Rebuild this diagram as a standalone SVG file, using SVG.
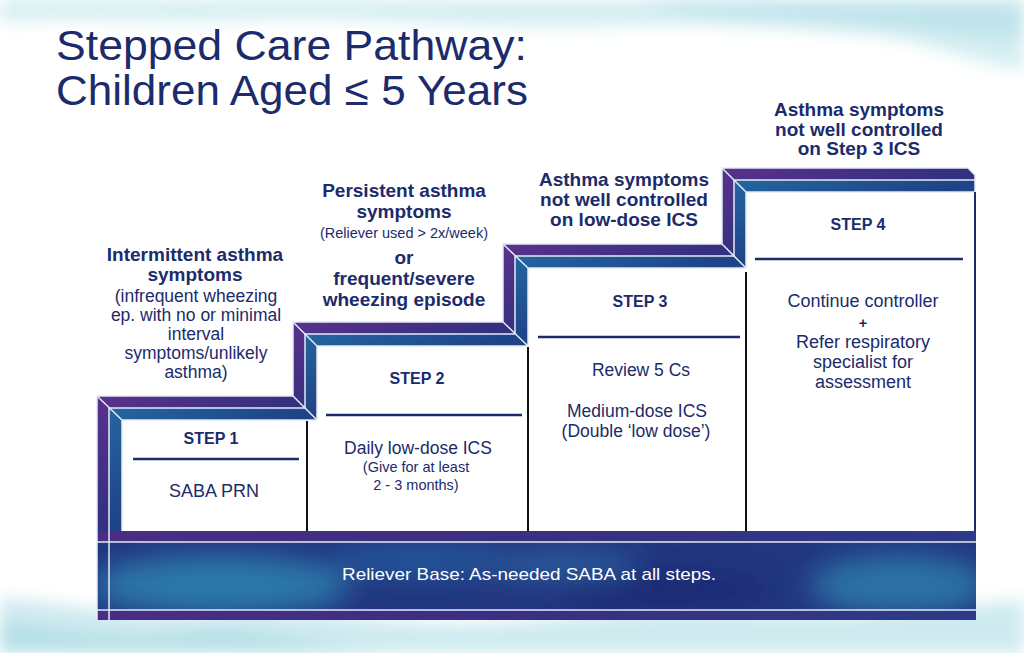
<svg xmlns="http://www.w3.org/2000/svg" width="1024" height="653" viewBox="0 0 1024 653">
  <defs>
    <filter id="soft" x="-20%" y="-50%" width="140%" height="200%">
      <feGaussianBlur stdDeviation="8"/>
    </filter>
    <filter id="wash" x="-30%" y="-60%" width="160%" height="220%">
      <feGaussianBlur stdDeviation="14"/>
    </filter>
    <clipPath id="baseClip">
      <rect x="97" y="531" width="879" height="89"/>
    </clipPath>
    <linearGradient id="gPurple" x1="0" y1="0" x2="1" y2="1">
      <stop offset="0" stop-color="#5a318c"/>
      <stop offset="0.5" stop-color="#33307f"/>
      <stop offset="1" stop-color="#4a2f86"/>
    </linearGradient>
    <linearGradient id="gBlue" x1="0" y1="0" x2="1" y2="1">
      <stop offset="0" stop-color="#2466a0"/>
      <stop offset="0.5" stop-color="#1f4286"/>
      <stop offset="1" stop-color="#2a70a6"/>
    </linearGradient>
    <linearGradient id="gBaseStrip" x1="0" y1="0" x2="1" y2="0">
      <stop offset="0" stop-color="#4a2d84"/>
      <stop offset="0.5" stop-color="#3a2f82"/>
      <stop offset="1" stop-color="#2c3a88"/>
    </linearGradient>
    <style>
      .navy { fill: #1b2b6b; }
      .t { font-family: "Liberation Sans", Arial, sans-serif; fill: #1b2b6b; text-anchor: middle; }
      .b { font-weight: bold; font-size: 19px; }
      .r { font-size: 17.5px; }
      .s { font-size: 14.5px; }
      .step { font-weight: bold; font-size: 16px; }
      .body { font-size: 18px; }
      .purple { fill: url(#gPurple); }
      .blue { fill: url(#gBlue); }
      .hl { stroke: #e4ecf4; stroke-width: 1.5; fill: none; }
      .rule { stroke: #1b2b6b; stroke-width: 2.5; }
      .vline { stroke: #111; stroke-width: 2; }
    </style>
  </defs>

  <!-- background -->
  <rect x="0" y="0" width="1024" height="653" fill="#ffffff"/>
  <g id="background" filter="url(#soft)" opacity="0.85">
    <path d="M0 0 H1024 V70 C960 60 930 40 860 34 C760 26 700 22 600 26 C480 30 380 16 250 20 C150 23 60 18 0 22 Z" fill="#cdebef"/>
    <path d="M640 0 H1024 V40 C940 36 860 22 760 20 C700 18 660 10 640 0 Z" fill="#b5e0e8"/>
    <path d="M0 598 C80 604 140 620 210 614 C300 606 380 626 470 624 C560 622 640 606 740 612 C840 618 930 608 1024 600 V653 H0 Z" fill="#c6e7ed"/>
    <path d="M0 620 C60 630 120 640 200 630 C260 624 320 650 400 653 H0 Z" fill="#a9dbe3"/>
  </g>

  <!-- title -->
  <g id="title">
    <text x="56" y="60" font-family="Liberation Sans, Arial, sans-serif" font-size="43" class="navy" textLength="471" lengthAdjust="spacingAndGlyphs">Stepped Care Pathway:</text>
    <text x="56" y="105" font-family="Liberation Sans, Arial, sans-serif" font-size="43" class="navy" textLength="472" lengthAdjust="spacingAndGlyphs">Children Aged ≤ 5 Years</text>
  </g>

  <!-- white step boxes -->
  <g id="boxes" fill="#ffffff">
    <rect x="122" y="420" width="185" height="111"/>
    <polygon points="317,346 528,346 528,531 307,531 307,420 317,420"/>
    <rect x="528" y="268" width="218" height="263"/>
    <rect x="746" y="192" width="229" height="339"/>
  </g>

  <!-- stair frames -->
  <g id="frames">
    <polygon class="purple" points="97,396 293,396 317,420 122,420 122,531 97,531"/>
    <polygon class="blue" points="109,408 305,408 317,420 122,420 122,531 109,531"/>
    <polygon class="purple" points="293,322 503,322 528,346 317,346 317,420 293,396"/>
    <polygon class="blue" points="305,334 515,334 528,346 317,346 317,420 305,408"/>
    <polygon class="purple" points="503,244 722,244 746,268 528,268 528,346 503,322"/>
    <polygon class="blue" points="515,256 734,256 746,268 528,268 528,346 515,334"/>
    <polygon class="purple" points="722,168 968,168 975,175 975,192 746,192 746,268 722,244"/>
    <polygon class="blue" points="734,180 975,180 975,192 746,192 746,268 734,256"/>
  </g>

  <!-- base band -->
  <g id="base">
    <rect x="97" y="531" width="879" height="89" fill="#22367f"/>
    <g clip-path="url(#baseClip)">
      <g filter="url(#wash)">
        <ellipse cx="220" cy="585" rx="130" ry="30" fill="#2a78aa"/>
        <ellipse cx="420" cy="560" rx="90" ry="18" fill="#24549a"/>
        <ellipse cx="660" cy="590" rx="110" ry="20" fill="#1c2c74"/>
        <ellipse cx="900" cy="585" rx="90" ry="30" fill="#2a72a6"/>
        <ellipse cx="560" cy="565" rx="80" ry="14" fill="#2b5c9e"/>
      </g>
      <rect x="97" y="531" width="879" height="11" fill="url(#gBaseStrip)"/>
      <rect x="97" y="610" width="879" height="10" fill="url(#gBaseStrip)"/>
    </g>
    <line class="hl" x1="97" y1="542" x2="976" y2="542"/>
    <line class="hl" x1="97" y1="610" x2="976" y2="610"/>
    <line class="hl" x1="109" y1="531" x2="109" y2="620"/>
    <line class="hl" x1="97" y1="531" x2="97" y2="620"/>
    <text x="529" y="580" font-family="Liberation Sans, Arial, sans-serif" font-size="17" fill="#ffffff" text-anchor="middle" textLength="374" lengthAdjust="spacingAndGlyphs">Reliever Base: As-needed SABA at all steps.</text>
  </g>

  <!-- frame highlight lines -->
  <g id="highlights">
    <path class="hl" d="M97 531 V396 H293 V322 H503 V244 H722 V168 H968 L975 175 V192"/>
    <path class="hl" d="M109 531 V408 H305 M305 408 V334 H515 M515 334 V256 H734 M734 256 V180 H975"/>
    <path class="hl" d="M97 396 L122 420 M293 396 L317 420 M293 322 L317 346 M503 322 L528 346 M503 244 L528 268 M722 244 L746 268 M722 168 L746 192"/>
    <path class="hl" d="M122 531 V420 H317 M317 420 V346 H528 M528 346 V268 H746 M746 268 V192 H975"/>
  </g>

  <!-- dividers inside boxes -->
  <g id="dividers">
    <line class="vline" x1="307" y1="421" x2="307" y2="531"/>
    <line class="vline" x1="528" y1="347" x2="528" y2="531"/>
    <line class="vline" x1="746" y1="272" x2="746" y2="531"/>
    <line x1="975" y1="192" x2="975" y2="531" stroke="#1b2b6b" stroke-width="2"/>
    <line class="rule" x1="133" y1="459" x2="299" y2="459"/>
    <line class="rule" x1="326" y1="415" x2="522" y2="415"/>
    <line class="rule" x1="538" y1="337" x2="740" y2="337"/>
    <line class="rule" x1="755" y1="259" x2="963" y2="259"/>
  </g>

  <!-- step 1 -->
  <g id="step1">
    <text class="t b" x="195" y="261">Intermittent asthma</text>
    <text class="t b" x="195" y="281">symptoms</text>
    <text class="t r" x="196" y="302">(infrequent wheezing</text>
    <text class="t r" x="196" y="321">ep. with no or minimal</text>
    <text class="t r" x="196" y="340">interval</text>
    <text class="t r" x="196" y="359">symptoms/unlikely</text>
    <text class="t r" x="196" y="378">asthma)</text>
    <text class="t step" x="211" y="444">STEP 1</text>
    <text class="t body" x="214" y="497">SABA PRN</text>
  </g>

  <!-- step 2 -->
  <g id="step2">
    <text class="t b" x="404" y="197">Persistent asthma</text>
    <text class="t b" x="404" y="218">symptoms</text>
    <text class="t s" x="404" y="238">(Reliever used &gt; 2x/week)</text>
    <text class="t b" x="404" y="264">or</text>
    <text class="t b" x="404" y="285">frequent/severe</text>
    <text class="t b" x="404" y="306">wheezing episode</text>
    <text class="t step" x="417" y="384">STEP 2</text>
    <text class="t r" x="418" y="454">Daily low-dose ICS</text>
    <text class="t s" x="416" y="472">(Give for at least</text>
    <text class="t s" x="416" y="490">2 - 3 months)</text>
  </g>

  <!-- step 3 -->
  <g id="step3">
    <text class="t b" x="624" y="186">Asthma symptoms</text>
    <text class="t b" x="624" y="206">not well controlled</text>
    <text class="t b" x="624" y="226">on low-dose ICS</text>
    <text class="t step" x="640" y="307">STEP 3</text>
    <text class="t r" x="641" y="376">Review 5 Cs</text>
    <text class="t r" x="637" y="417">Medium-dose ICS</text>
    <text class="t r" x="636" y="437">(Double ‘low dose’)</text>
  </g>

  <!-- step 4 -->
  <g id="step4">
    <text class="t b" x="859" y="116">Asthma symptoms</text>
    <text class="t b" x="859" y="136">not well controlled</text>
    <text class="t b" x="859" y="155">on Step 3 ICS</text>
    <text class="t step" x="858" y="230">STEP 4</text>
    <text class="t body" x="863" y="307">Continue controller</text>
    <text class="t s" x="863" y="328" font-weight="bold">+</text>
    <text class="t body" x="863" y="348">Refer respiratory</text>
    <text class="t body" x="863" y="368">specialist for</text>
    <text class="t body" x="863" y="388">assessment</text>
  </g>
</svg>
